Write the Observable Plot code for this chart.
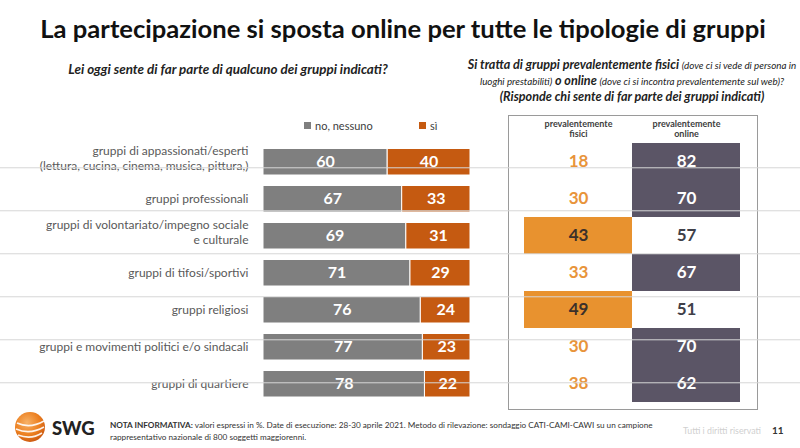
<!DOCTYPE html>
<html><head><meta charset="utf-8">
<script src="https://cdn.jsdelivr.net/npm/d3@7"></script>
<script src="https://cdn.jsdelivr.net/npm/@observablehq/plot@0.6"></script>
<style>
body{margin:0;width:800px;height:448px;position:relative;overflow:hidden;background:#fff;font-family:Lato,"Open Sans",sans-serif;}
.abs{position:absolute;}
#title{left:0;width:806px;top:14px;text-align:center;font-size:25.6px;line-height:28px;font-weight:700;color:#111;}
#subL{left:28px;width:400px;top:61px;text-align:center;font-size:13.4px;font-style:italic;font-weight:700;color:#222;}
#subR{left:432px;width:400px;top:57px;text-align:center;font-size:12.6px;line-height:16px;font-style:italic;font-weight:700;color:#222;}
#subR .s{font-size:9.8px;font-weight:400;}
.leg{top:119px;font-size:11px;color:#404040;}
.sw{display:inline-block;width:7px;height:7px;margin-right:4px;vertical-align:1px;}
#nota{left:110px;top:420px;font-size:8.2px;line-height:11.5px;color:#333;}
#rights{left:683px;top:425px;font-size:8.8px;color:#d0d0d0;}
#page{left:772px;top:424px;font-size:10px;font-weight:700;color:#333;}
#swg{left:52px;top:417px;font-size:18.5px;font-weight:900;color:#222;}
.layer{position:absolute;top:0;}
</style></head>
<body>
<div id="title" class="abs">La partecipazione si sposta online per tutte le tipologie di gruppi</div>
<div id="subL" class="abs">Lei oggi sente di far parte di qualcuno dei gruppi indicati?</div>
<div id="subR" class="abs">Si tratta di gruppi prevalentemente fisici <span class="s">(dove ci si vede di persona in<br>luoghi prestabiliti)</span> o online <span class="s">(dove ci si incontra prevalentemente sul web)?</span><br>(Risponde chi sente di far parte dei gruppi indicati)</div>
<div class="abs leg" style="left:304px"><span class="sw" style="background:#7f7f7f"></span>no, nessuno</div>
<div class="abs leg" style="left:419px"><span class="sw" style="background:#c55a11"></span>sì</div>
<div id="left" class="layer" style="left:0"></div>
<div id="right" class="layer" style="left:505px"></div>
<div id="sep" class="layer" style="left:0;pointer-events:none"></div>
<svg class="abs" style="left:14px;top:411px" width="32" height="32" viewBox="0 0 32 32">
<defs><radialGradient id="g" cx="0.4" cy="0.35" r="0.7"><stop offset="0" stop-color="#f7b267"/><stop offset="0.6" stop-color="#ec7f1f"/><stop offset="1" stop-color="#c9560f"/></radialGradient></defs>
<circle cx="16" cy="16" r="15" fill="url(#g)"/>
<path d="M3 12 Q16 18 30 10 M2 18 Q16 24 30 16 M4 24 Q17 29 28 22" stroke="#fff" stroke-width="1.6" fill="none" opacity="0.9"/>
</svg>
<div id="swg" class="abs">SWG</div>
<div id="nota" class="abs"><b>NOTA INFORMATIVA:</b> valori espressi in %. Date di esecuzione: 28-30 aprile 2021. Metodo di rilevazione: sondaggio CATI-CAMI-CAWI su un campione<br>rappresentativo nazionale di 800 soggetti maggiorenni.</div>
<div id="rights" class="abs">Tutti i diritti riservati</div>
<div id="page" class="abs">11</div>
<script>
const gruppi = [
  "gruppi di appassionati/esperti\n(lettura, cucina, cinema, musica, pittura,)",
  "gruppi professionali",
  "gruppi di volontariato/impegno sociale\ne culturale",
  "gruppi di tifosi/sportivi",
  "gruppi religiosi",
  "gruppi e movimenti politici e/o sindacali",
  "gruppi di quartiere"
];
const risposte = ["no, nessuno", "sì"];
const no = [60, 67, 69, 71, 76, 77, 78];
const si = [40, 33, 31, 29, 24, 23, 22];
const tipi = ["prevalentemente\nfisici", "prevalentemente\nonline"];
const fisici = [18, 30, 43, 33, 49, 30, 38];
const online = [82, 70, 57, 67, 51, 70, 62];

const H = 448, MT = 141, MB = 45;
const step = (H - MT - MB) / gruppi.length;
const font = "Lato, 'Open Sans', sans-serif";

const partecipa = gruppi.flatMap((g, i) => [
  {gruppo: g, risposta: risposte[0], valore: no[i]},
  {gruppo: g, risposta: risposte[1], valore: si[i]}
]);
const tabella = gruppi.flatMap((g, i) => {
  const fis = fisici[i] >= 40;
  return [
    {gruppo: g, tipo: tipi[0], valore: fisici[i], evid: fis},
    {gruppo: g, tipo: tipi[1], valore: online[i], evid: !fis}
  ];
});

const labelOpts = {y: d => d, frameAnchor: "left", textAnchor: "end", dx: -15, fontSize: 12, fill: "#595959", lineHeight: 1.2, lineAnchor: "middle"};

const left = Plot.plot({
  width: 505, height: H, marginTop: MT, marginBottom: MB, marginLeft: 263, marginRight: 35,
  style: {background: "transparent", fontFamily: font},
  x: {domain: [0, 100], axis: null},
  y: {domain: gruppi, padding: 0, axis: null},
  color: {domain: risposte, range: ["#7f7f7f", "#c55a11"]},
  marks: [
    Plot.text(gruppi.filter(g => !g.includes("\n")), {...labelOpts, dy: -1}),
    Plot.text(gruppi.filter(g => g.includes("\n")), {...labelOpts, dy: -4}),
    Plot.barX(partecipa, {x: "valore", y: "gruppo", fill: "risposta", insetTop: 5.5, insetBottom: 5, stroke: "white", strokeWidth: 1}),
    Plot.textX(partecipa, Plot.stackX({x: "valore", y: "gruppo", z: "risposta", text: "valore", fill: "white", fontSize: 16, fontWeight: "bold"}))
  ]
});
document.getElementById("left").append(left);

const right = Plot.plot({
  width: 295, height: H, marginTop: MT, marginBottom: MB, marginLeft: 19, marginRight: 60,
  style: {background: "transparent", fontFamily: font},
  x: {domain: tipi, padding: 0, axis: null},
  y: {domain: gruppi, padding: 0, axis: null},
  marks: [
    Plot.frame({stroke: "#9a9a9a", insetLeft: -16, insetRight: -17, insetTop: -26, insetBottom: -6}),
    Plot.axisX({anchor: "top", tickSize: 0, tickPadding: 5, fontSize: 9, fontWeight: "bold", color: "#404040", label: null, lineHeight: 1.05}),
    Plot.cell(tabella, {x: "tipo", y: "gruppo", fill: d => d.evid ? (d.tipo === tipi[0] ? "#e8922f" : "#5b5566") : "none"}),
    Plot.text(tabella, {x: "tipo", y: "gruppo", text: "valore", fontSize: 17, fontWeight: "bold",
      fill: d => d.tipo === tipi[0] ? (d.evid ? "#3b302a" : "#e8943a") : (d.evid ? "#ffffff" : "#404048")})
  ]
});
document.getElementById("right").append(right);

const sep = Plot.plot({
  width: 800, height: H, marginTop: MT, marginBottom: MB, marginLeft: 0, marginRight: 0,
  style: {background: "transparent"},
  y: {domain: gruppi, padding: 0, axis: null},
  marks: [Plot.ruleY(gruppi.slice(1), {y: d => d, dy: -step / 2, stroke: "#d6d6d6", strokeWidth: 1})]
});
document.getElementById("sep").append(sep);
</script>
</body></html>
